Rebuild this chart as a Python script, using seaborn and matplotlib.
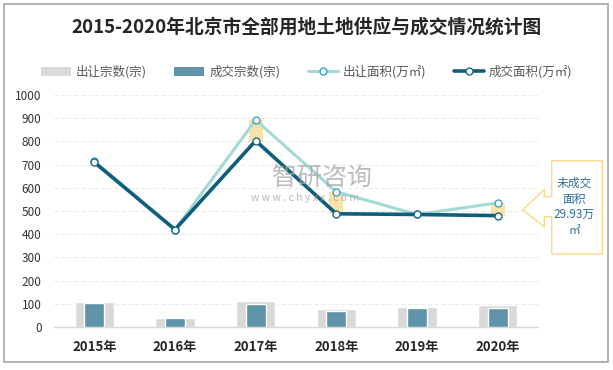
import matplotlib
matplotlib.use("Agg")
import matplotlib.pyplot as plt
import seaborn as sns
import numpy as np
import pandas as pd
from matplotlib.patches import Rectangle, Polygon, Patch
from matplotlib.lines import Line2D

years = ["2015年", "2016年", "2017年", "2018年", "2019年", "2020年"]
supply_count = [106, 40, 113, 79, 88, 96]
deal_count = [105, 40, 100, 70, 83, 83]
supply_area = [714, 420, 892, 583, 485, 535]
deal_area = [710, 420, 803, 488, 485, 480]
highlight_years = [2, 3, 5]
callout_text = "未成交\n面积\n29.93万\n㎡"

sns.set_theme(style="white")
plt.rcParams['font.family'] = ['Noto Sans CJK SC', 'DejaVu Sans']

W, H = 613, 370
fig = plt.figure(figsize=(W / 100, H / 100), dpi=100)
ax = fig.add_axes([54 / W, 1 - 327 / H, (538 - 54) / W, (327 - 95) / H])

df = pd.DataFrame({"year": years, "supply_count": supply_count, "deal_count": deal_count,
                   "supply_area": supply_area, "deal_area": deal_area})

sns.barplot(data=df, x="year", y="supply_count", color="#d9d9d9", width=0.49,
            saturation=1, ax=ax, zorder=2)
sns.barplot(data=df, x="year", y="deal_count", color="#5e93aa", width=0.25,
            saturation=1, ax=ax, zorder=3)

# highlight boxes between lines
for i in highlight_years:
    ax.add_patch(Rectangle((i - 0.085, deal_area[i]), 0.17, supply_area[i] - deal_area[i],
                           facecolor="#fae3a8", edgecolor="none", zorder=4))

sns.pointplot(data=df, x="year", y="supply_area", color="#a3d9d6", markers="o",
              errorbar=None, ax=ax, linewidth=2.2, markersize=5,
              markerfacecolor="white", markeredgecolor="#35a6d2", markeredgewidth=1,
              zorder=5)
sns.pointplot(data=df, x="year", y="deal_area", color="#0e5e7c", markers="o",
              errorbar=None, ax=ax, linewidth=2.6, markersize=5,
              markerfacecolor="white", markeredgecolor="#1a6a88", markeredgewidth=1,
              zorder=6)

ax.set_xlim(-0.5, 5.5)
ax.set_ylim(0, 1000)
ax.set_yticks(np.arange(0, 1001, 100))
ax.set_xlabel("")
ax.set_ylabel("")
ax.grid(axis="y", color="#ebebeb", linestyle=(0, (4, 2)), linewidth=0.8, zorder=0)
ax.set_axisbelow(True)
for s in ["top", "right", "left"]:
    ax.spines[s].set_visible(False)
ax.spines["bottom"].set_color("#d9d9d9")
ax.spines["bottom"].set_linewidth(1)
ax.tick_params(axis="y", length=0, pad=9, labelsize=8.5, labelcolor="#333333")
ax.tick_params(axis="x", length=0, pad=9, labelsize=9.5, labelcolor="#262626")
for lab in ax.get_xticklabels():
    lab.set_fontweight("bold")

# title
fig.text(0.5, 1 - 27 / H, "2015-2020年北京市全部用地土地供应与成交情况统计图",
         ha="center", va="center", fontsize=13.5, fontweight="bold", color="#262626")

# legend
handles = [
    Patch(facecolor="#d9d9d9", edgecolor="none"),
    Patch(facecolor="#5e93aa", edgecolor="none"),
    Line2D([], [], color="#a3d9d6", lw=2.2, marker="o", markersize=5,
           markerfacecolor="white", markeredgecolor="#35a6d2"),
    Line2D([], [], color="#0e5e7c", lw=2.6, marker="o", markersize=5,
           markerfacecolor="white", markeredgecolor="#1a6a88"),
]
labels = ["出让宗数(宗)", "成交宗数(宗)", "出让面积(万㎡)", "成交面积(万㎡)"]
fig.legend(handles, labels, loc="center", bbox_to_anchor=(0.5, 1 - 72 / H), ncol=4,
           frameon=False, fontsize=9, labelcolor="#595959", handlelength=2.4,
           handleheight=0.8, handletextpad=0.4, columnspacing=2.2)

# watermark
fig.text(322 / W, 1 - 178 / H, "智研咨询", ha="center", va="center", fontsize=18,
         color="#a6a6a6", alpha=0.75, zorder=1)
fig.text(305 / W, 1 - 198 / H, "w w w . c h y x x . c o m", ha="center", va="center",
         fontsize=7.5, color="#a6a6a6", alpha=0.8, zorder=1)

# callout
pts = [(551.7, 160.7), (602.3, 160.7), (602.3, 254), (551.7, 254), (551.7, 216.7),
       (544.3, 216.7), (544.3, 226.7), (522.7, 210), (544.3, 189.3), (544.3, 196.7),
       (551.7, 196.7)]
fig.patches.append(Polygon([(x / W, 1 - y / H) for x, y in pts], closed=True,
                           transform=fig.transFigure, facecolor="white",
                           edgecolor="#fad98a", linewidth=1, zorder=10))
fig.text(574 / W, 1 - 207 / H, callout_text, ha="center", va="center", fontsize=8.5,
         color="#2f6f8f", linespacing=1.25, zorder=11)

# border
fig.patches.append(Rectangle((4 / W, 1 - 362 / H), 604 / W, 358 / H, transform=fig.transFigure,
                             facecolor="none", edgecolor="#a6a6a6", linewidth=1.2))

fig.savefig("out.png", dpi=100)
